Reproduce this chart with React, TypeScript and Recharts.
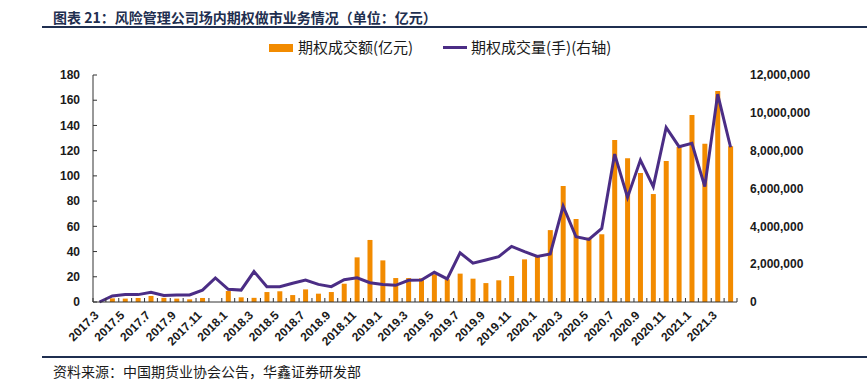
import React from "react";
import { ComposedChart, Bar, Line, XAxis, YAxis } from "recharts";

const months = [
    "2017.3", "2017.4", "2017.5", "2017.6", "2017.7", "2017.8", "2017.9", "2017.10", "2017.11", "2017.12",
    "2018.1", "2018.2", "2018.3", "2018.4", "2018.5", "2018.6", "2018.7", "2018.8", "2018.9", "2018.10",
    "2018.11", "2018.12", "2019.1", "2019.2", "2019.3", "2019.4", "2019.5", "2019.6", "2019.7", "2019.8",
    "2019.9", "2019.10", "2019.11", "2019.12", "2020.1", "2020.2", "2020.3", "2020.4", "2020.5", "2020.6",
    "2020.7", "2020.8", "2020.9", "2020.10", "2020.11", "2020.12", "2021.1", "2021.2", "2021.3", "2021.4",
];

// 期权成交额 (亿元)
const turnover: (number | null)[] = [
    null, 2.9, 2.7, 3.2, 4.8, 3.3, 2.7, 2.1, 3.2, null,
    8.7, 3.7, 3.3, 7.9, 8.5, 5.5, 10, 6.6, 7.9, 14.5,
    35.4, 49.2, 33, 19, 19, 18.8, 22, 18, 22.5, 18.5,
    15, 17.2, 20.6, 33.8, 36, 57, 92, 65.8, 51, 53.7,
    128.5, 114, 102.3, 85.6, 111.8, 123, 148.3, 125.5, 167.3, 123.5,
];

// 期权成交量 (手)
const volume = [
    0, 320000, 390000, 390000, 510000, 340000, 370000, 370000, 630000, 1270000,
    670000, 630000, 1610000, 810000, 810000, 990000, 1160000, 930000, 810000, 1180000,
    1280000, 1020000, 930000, 880000, 1150000, 1160000, 1570000, 1220000, 2600000, 2050000,
    2220000, 2400000, 2940000, 2660000, 2410000, 2540000, 5070000, 3450000, 3310000, 3890000,
    7820000, 5530000, 7500000, 6100000, 9230000, 8210000, 8390000, 6100000, 10990000, 8180000,
];

const leftTicks = [0, 20, 40, 60, 80, 100, 120, 140, 160, 180];
const rightTicks = [0, 2000000, 4000000, 6000000, 8000000, 10000000, 12000000];

const data = months.map((m, i) => ({ month: m, turnover: turnover[i], volume: volume[i] }));

const W = 867;
const H = 382;
const PLOT_LEFT = 93;
const PLOT_RIGHT = 737;
const AXIS_Y = 302;
const BAND = (PLOT_RIGHT - PLOT_LEFT) / months.length;

const NUM_FONT = "'Liberation Sans', Arial, sans-serif";
const CJK_FONT = "'Noto Sans CJK SC', 'Noto Sans', sans-serif";
const ORANGE = "#f28b00";
const PURPLE = "#4b2d85";
const NAVY = "#1f2f50";

function XTick(props: any) {
    const { x, payload } = props;
    const idx = props.index ?? payload.index;
    const bx = x - BAND / 2;
    return (
        <g>
            <line x1={bx} y1={AXIS_Y} x2={bx} y2={AXIS_Y - 4} stroke="#333" />
            {idx === months.length - 1 && (
                <line x1={x + BAND / 2} y1={AXIS_Y} x2={x + BAND / 2} y2={AXIS_Y - 4} stroke="#333" />
            )}
            {idx % 2 === 0 && (
                <text
                    transform={`translate(${x},${AXIS_Y + 14}) rotate(-45)`}
                    textAnchor="end"
                    fontSize={12}
                    fontWeight="bold"
                    fontFamily={NUM_FONT}
                    fill="#1a1a1a"
                >
                    {payload.value}
                </text>
            )}
        </g>
    );
}

export default function App() {
    return (
        <div style={{ position: "absolute", left: 0, top: 0, width: W, height: H, background: "#fff", overflow: "hidden" }}>
            <div
                style={{
                    position: "absolute", left: 53, top: 7, fontFamily: CJK_FONT, fontSize: 14,
                    fontWeight: "bold", color: NAVY, whiteSpace: "nowrap", lineHeight: "20px",
                }}
            >
                图表 21：风险管理公司场内期权做市业务情况（单位：亿元）
            </div>
            <div style={{ position: "absolute", left: 42, top: 26, width: W - 42, height: 2, background: NAVY }} />

            <div style={{ position: "absolute", left: 269, top: 44, width: 24, height: 8, background: ORANGE }} />
            <div style={{ position: "absolute", left: 298, top: 37, fontFamily: CJK_FONT, fontSize: 15, color: "#1a1a1a", whiteSpace: "nowrap", lineHeight: "20px" }}>
                期权成交额(亿元)
            </div>
            <div style={{ position: "absolute", left: 443, top: 46, width: 24, height: 3, background: PURPLE }} />
            <div style={{ position: "absolute", left: 471, top: 37, fontFamily: CJK_FONT, fontSize: 15, color: "#1a1a1a", whiteSpace: "nowrap", lineHeight: "20px" }}>
                期权成交量(手)(右轴)
            </div>

            <div style={{ position: "absolute", left: 0, top: 0 }}>
                <ComposedChart
                    width={W}
                    height={H}
                    data={data}
                    margin={{ top: 75, right: 30, bottom: 25, left: 33 }}
                    barCategoryGap={0}
                >
                    <XAxis
                        dataKey="month"
                        interval={0}
                        tickLine={false}
                        tickSize={0}
                        height={55}
                        axisLine={{ stroke: "#333" }}
                        tick={<XTick />}
                    />
                    <YAxis
                        yAxisId="left"
                        width={60}
                        domain={[0, 180]}
                        ticks={leftTicks}
                        interval={0}
                        tickSize={-4}
                        tickMargin={17}
                        axisLine={{ stroke: "#333" }}
                        tickLine={{ stroke: "#333" }}
                        tick={{ fill: "#1a1a1a", fontSize: 12, fontWeight: "bold", fontFamily: NUM_FONT }}
                    />
                    <YAxis
                        yAxisId="right"
                        orientation="right"
                        width={100}
                        domain={[0, 12000000]}
                        ticks={rightTicks}
                        interval={0}
                        axisLine={false}
                        tickLine={false}
                        tickSize={5}
                        tickMargin={8}
                        tickFormatter={(v: number) => v.toLocaleString("en-US")}
                        tick={{ fill: "#1a1a1a", fontSize: 12, fontWeight: "bold", fontFamily: NUM_FONT }}
                    />
                    <Bar yAxisId="left" dataKey="turnover" fill={ORANGE} barSize={5} isAnimationActive={false} />
                    <Line
                        yAxisId="right"
                        type="linear"
                        dataKey="volume"
                        stroke={PURPLE}
                        strokeWidth={3}
                        dot={false}
                        activeDot={false}
                        isAnimationActive={false}
                    />
                </ComposedChart>
            </div>

            <div style={{ position: "absolute", left: 42, top: 356, width: W - 42, height: 2, background: NAVY }} />
            <div style={{ position: "absolute", left: 53, top: 361, fontFamily: CJK_FONT, fontSize: 14, color: "#1a1a1a", whiteSpace: "nowrap", lineHeight: "20px" }}>
                资料来源：中国期货业协会公告，华鑫证券研发部
            </div>
        </div>
    );
}
